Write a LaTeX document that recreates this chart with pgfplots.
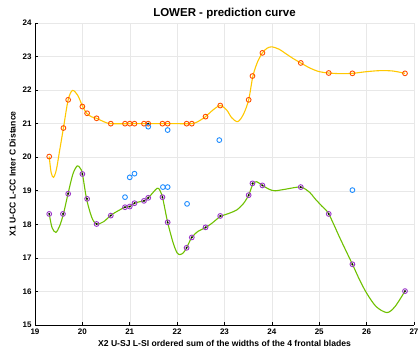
\documentclass[border=0pt]{standalone}
\usepackage{pgfplots}
\pgfplotsset{compat=1.18}
\usepackage{fontspec}
\setmainfont{Liberation Sans}
\definecolor{ycurve}{HTML}{FFC800}
\definecolor{omark}{HTML}{FF5000}
\definecolor{gcurve}{HTML}{6EC000}
\definecolor{pmark}{HTML}{9A35C8}
\definecolor{bmark}{HTML}{1E8CFF}
\begin{document}
\begin{tikzpicture}
\path[use as bounding box] (0,0) rectangle (418pt,352pt);
\begin{axis}[
  at={(35pt,27pt)}, anchor=south west,
  scale only axis, width=379pt, height=302pt,
  xmin=19, xmax=27, ymin=15, ymax=24,
  xtick={19,...,27}, ytick={15,...,24},
  axis x line*=bottom, axis y line*=left,
  axis line style={-, black, line width=0.8pt},
  tick align=inside, major tick length=3pt,
  tick style={black, line width=0.6pt},
  grid=major, grid style={gray!18, line width=0.4pt},
  /pgf/number format/assume math mode=true,
  tick label style={font=\fontsize{8}{9}\selectfont\bfseries},
  title={LOWER - prediction curve},
  title style={font=\fontsize{11.5}{13}\selectfont\bfseries, yshift=-5pt},
  xlabel={X2 U-SJ L-SI ordered sum of the widths of the 4 frontal blades},
  ylabel={X1 U-CC L-CC Inter C Distance},
  xlabel style={font=\fontsize{8.6}{10}\selectfont\bfseries, yshift=1pt},
  ylabel style={font=\fontsize{8.6}{10}\selectfont\bfseries, yshift=0pt},
  clip=false,
]
% upper curve
\addplot[ycurve, line width=1.1pt, smooth, tension=0.5] coordinates {
(19.30,20.02) (19.34,19.55) (19.39,19.40) (19.45,19.62) (19.52,20.20) (19.60,20.87)
(19.70,21.71) (19.79,21.99) (19.90,21.85) (20.00,21.53) (20.09,21.31) (20.20,21.20)
(20.30,21.16) (20.45,21.06) (20.60,21.00) (21.00,21.00) (21.50,21.00) (22.00,21.00)
(22.31,21.00) (22.45,21.07) (22.60,21.21) (22.75,21.40) (22.91,21.54) (23.05,21.40)
(23.15,21.18) (23.28,21.06) (23.40,21.28) (23.51,21.71) (23.60,22.42) (23.70,22.85)
(23.80,23.11) (23.90,23.25) (24.00,23.29) (24.15,23.22) (24.30,23.08) (24.45,22.94)
(24.61,22.81) (24.80,22.66) (25.00,22.55) (25.20,22.51) (25.45,22.49) (25.70,22.50)
(26.00,22.55) (26.28,22.58) (26.55,22.57) (26.81,22.50)};
% lower curve
\addplot[gcurve, line width=1.1pt, smooth, tension=0.5] coordinates {
(19.30,18.31) (19.36,17.90) (19.44,17.76) (19.52,17.95) (19.60,18.31) (19.70,18.93)
(19.80,19.50) (19.89,19.74) (19.95,19.68) (20.00,19.51) (20.09,18.75) (20.20,18.20)
(20.30,18.01) (20.45,18.08) (20.60,18.27) (20.75,18.40) (20.90,18.51) (21.00,18.53)
(21.10,18.63) (21.20,18.67) (21.30,18.70) (21.39,18.79) (21.48,18.93) (21.55,19.04)
(21.61,19.07) (21.69,18.81) (21.80,18.06) (21.92,17.43) (22.00,17.15) (22.06,17.10)
(22.13,17.15) (22.20,17.30) (22.31,17.61) (22.45,17.80) (22.60,17.90) (22.75,18.05)
(22.91,18.23) (23.10,18.33) (23.26,18.43) (23.40,18.62) (23.51,18.87) (23.60,19.20)
(23.68,19.27) (23.80,19.16) (23.95,19.04) (24.07,19.00) (24.30,19.05) (24.61,19.11)
(24.80,18.95) (24.90,18.78) (25.05,18.55) (25.20,18.31) (25.45,17.55) (25.70,16.81)
(25.85,16.35) (26.00,15.95) (26.20,15.55) (26.43,15.37) (26.60,15.55) (26.81,16.01)};
% upper data points
\addplot[only marks, mark=o, mark size=2.4pt, mark options={draw=omark, line width=0.9pt, fill=ycurve!60}] coordinates {
(19.30,20.02) (19.60,20.87) (19.70,21.71) (20.00,21.51) (20.10,21.31) (20.30,21.16)
(20.60,21.00) (20.90,21.00) (21.00,21.00) (21.10,21.00) (21.30,21.00) (21.39,21.00)
(21.69,21.00) (21.80,21.00) (22.20,21.00) (22.31,21.00) (22.60,21.21) (22.91,21.54)
(23.51,21.71) (23.59,22.42) (23.80,23.11) (24.61,22.81) (25.20,22.51) (25.70,22.50)
(26.81,22.50)};
% lower data points
\addplot[only marks, mark=o, mark size=2.4pt, mark options={draw=pmark, line width=0.9pt}] coordinates {
(19.30,18.31) (19.59,18.31) (19.70,18.91) (20.00,19.50) (20.10,18.76) (20.30,18.01)
(20.60,18.26) (20.90,18.51) (21.00,18.53) (21.10,18.63) (21.30,18.70) (21.39,18.79)
(21.69,18.81) (21.80,18.06) (22.20,17.30) (22.31,17.61) (22.60,17.91) (22.91,18.25)
(23.51,18.87) (23.59,19.22) (23.80,19.16) (24.61,19.11) (25.20,18.31) (25.70,16.81)
(26.81,16.01)};
\addplot[only marks, mark=*, mark size=0.7pt, mark options={draw=black, fill=black}] coordinates {
(19.30,18.31) (19.59,18.31) (19.70,18.91) (20.00,19.50) (20.10,18.76) (20.30,18.01)
(20.60,18.26) (20.90,18.51) (21.00,18.53) (21.10,18.63) (21.30,18.70) (21.39,18.79)
(21.69,18.81) (21.80,18.06) (22.20,17.30) (22.31,17.61) (22.60,17.91) (22.91,18.25)
(23.51,18.87) (23.59,19.22) (23.80,19.16) (24.61,19.11) (25.20,18.31) (25.70,16.81)
(26.81,16.01) (21.39,21.00)};
% blue points
\addplot[only marks, mark=o, mark size=2.4pt, mark options={draw=bmark, line width=0.9pt}] coordinates {
(20.90,18.81) (21.00,19.40) (21.10,19.51) (21.39,20.91) (21.70,19.11) (21.80,19.11)
(21.80,20.81) (22.21,18.61) (22.89,20.51) (25.70,19.02)};
\end{axis}
\end{tikzpicture}
\end{document}
